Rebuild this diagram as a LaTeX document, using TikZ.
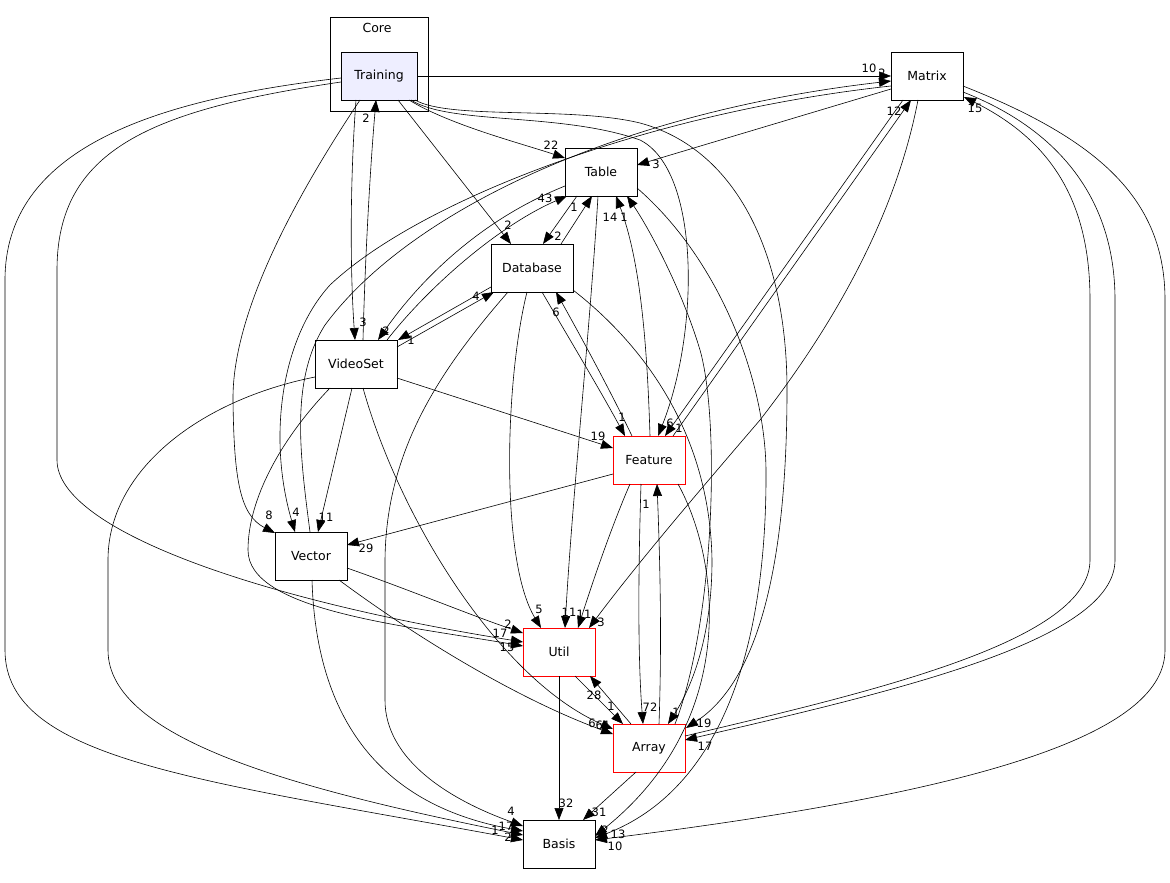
\documentclass[tikz,border=0pt]{standalone}
\usepackage{fontspec}
\setmainfont{DejaVu Sans}
\usetikzlibrary{arrows.meta,calc}
\begin{document}
\begin{tikzpicture}[x=1pt,y=-1pt,
  box/.style={draw=black,line width=0.7pt,minimum width=72pt,minimum height=48pt,inner sep=0pt,outer sep=0pt,font=\fontsize{12.5}{14}\selectfont},
  redbox/.style={box,draw=red},
  e/.style={draw=black,line width=0.6pt,-{Triangle[length=12pt,width=9pt]}},
  lab/.style={inner sep=0pt,font=\fontsize{11.5}{13}\selectfont}]
\fill[white] (0,0) rectangle (1170,883);
\useasboundingbox (0,0) rectangle (1170,883);
% cluster
\node[draw,line width=0.7pt,minimum width=98pt,minimum height=94pt,inner sep=0pt,outer sep=0pt] (core) at (379,64) {};
\node[lab,font=\fontsize{12.5}{14}\selectfont] (corelbl) at (377,28) {Core};
% nodes
\node[box,minimum width=76pt,fill={rgb,255:red,238;green,238;blue,255}] (T) at (379,76) {Training};
\node[box] (M) at (927,76) {Matrix};
\node[box] (Tb) at (601,172) {Table};
\node[box,minimum width=82pt] (D) at (532,268) {Database};
\node[box,minimum width=82pt] (VS) at (356,364) {VideoSet};
\node[redbox] (F) at (649,460) {Feature};
\node[box] (V) at (311,556) {Vector};
\node[redbox] (U) at (559,652) {Util};
\node[redbox] (A) at (649,748) {Array};
\node[box] (B) at (559,844) {Basis};
% edges
\draw[e] (T.east) -- (M.west);
\draw[e] ($(V.north west)+(35,0)$) .. controls (300,455) and (290,380) .. (325,325) .. controls (410,210) and (620,112) .. ($(M.north west)+(0,29)$);
\draw[e] ($(M.north west)+(0,34)$) .. controls (650,112) and (420,200) .. (330,285) .. controls (280,340) and (268,440) .. ($(V.north west)+(20,0)$);
\draw[e] ($(T.south west)+(68,0)$) .. controls (450,125) and (520,143) .. ($(Tb.north west)+(0,10)$);
\draw[e] ($(M.north west)+(0,37)$) -- ($(Tb.north east)+(0,17)$);
\draw[e] ($(VS.north west)+(72,0)$) .. controls (430,285) and (500,225) .. ($(Tb.south west)+(2,0)$);
\draw[e] ($(Tb.south west)+(0,-10)$) .. controls (480,220) and (420,280) .. ($(VS.north west)+(63,0)$);
\draw[e] ($(D.north west)+(70,0)$) -- ($(Tb.south west)+(27,0)$);
\draw[e] ($(Tb.south west)+(12,0)$) -- ($(D.north west)+(52,0)$);
\draw[e] ($(F.north west)+(37,0)$) .. controls (647,340) and (640,260) .. ($(Tb.south west)+(51,0)$);
\draw[e] ($(A.north west)+(62,0)$) .. controls (715,620) and (720,420) .. (700,350) .. controls (682,290) and (650,230) .. ($(Tb.south west)+(62,0)$);
\draw[e] ($(T.south west)+(57,0)$) -- ($(D.north west)+(20,0)$);
\draw[e] ($(VS.north east)+(0,7)$) -- ($(D.south west)+(3,0)$);
\draw[e] ($(D.south west)+(0,-5)$) -- ($(VS.north east)+(1,0)$);
\draw[e] ($(T.south west)+(15,0)$) .. controls (350,180) and (350,270) .. ($(VS.north west)+(40,0)$);
\draw[e] ($(VS.north west)+(48,0)$) .. controls (365,260) and (370,170) .. ($(T.south west)+(35,0)$);
\draw[e] ($(VS.north east)+(0,38)$) -- ($(F.north west)+(0,12)$);
\draw[e] ($(D.south west)+(51,0)$) .. controls (570,340) and (600,390) .. ($(F.north west)+(12,0)$);
\draw[e] ($(F.north west)+(19,0)$) .. controls (610,390) and (580,335) .. ($(D.south west)+(65,0)$);
\draw[e] ($(T.south east)+(-6,0)$) .. controls (450,125) and (560,112) .. (640,140) .. controls (700,170) and (700,330) .. ($(F.north west)+(45,0)$);
\draw[e] ($(T.south east)+(-2,0)$) .. controls (450,120) and (570,106) .. (640,123) .. controls (740,150) and (787,260) .. (787,390) .. controls (787,560) and (760,680) .. ($(A.north east)+(1,4)$);
\draw[e] ($(M.south west)+(12,0)$) -- ($(F.north west)+(52,0)$);
\draw[e] ($(F.north west)+(60,0)$) -- ($(M.south west)+(20,0)$);
\draw[e] ($(T.south west)+(19,0)$) .. controls (300,190) and (232,310) .. (233,400) .. controls (234,480) and (240,515) .. ($(V.north west)+(0,1)$);
\draw[e] ($(VS.south west)+(37,0)$) -- ($(V.north west)+(43,0)$);
\draw[e] ($(F.north west)+(0,38)$) -- ($(V.north east)+(0,13)$);
\draw[e] ($(D.south west)+(36,0)$) .. controls (505,380) and (500,560) .. ($(U.north west)+(18,0)$);
\draw[e] ($(Tb.south west)+(33,0)$) .. controls (590,330) and (572,500) .. ($(U.north west)+(42,0)$);
\draw[e] ($(F.south west)+(17,0)$) .. controls (610,530) and (590,590) .. ($(U.north west)+(55,0)$);
\draw[e] ($(M.south west)+(27,0)$) .. controls (895,220) and (830,330) .. (760,420) .. controls (700,490) and (640,560) .. ($(U.north east)+(-6,0)$);
\draw[e] ($(V.north east)+(0,36)$) .. controls (410,590) and (470,615) .. ($(U.north west)+(0,5)$);
\draw[e] ($(T.north west)+(0,30)$) .. controls (150,110) and (57,150) .. (57,270) -- (57,460) .. controls (57,530) and (260,600) .. ($(U.north west)+(0,14)$);
\draw[e] ($(VS.south west)+(15,0)$) .. controls (280,440) and (248,500) .. (248,550) .. controls (248,610) and (400,625) .. ($(U.north west)+(0,18)$);
\draw[e] ($(U.south west)+(52,0)$) -- ($(A.north west)+(10,0)$);
\draw[e] ($(A.north west)+(18,0)$) -- ($(U.south east)+(-5,0)$);
\draw[e] ($(F.south west)+(28,0)$) .. controls (638,580) and (638,660) .. ($(A.north west)+(30,0)$);
\draw[e] ($(A.north west)+(46,0)$) .. controls (662,640) and (660,560) .. ($(F.south west)+(44,0)$);
\draw[e] ($(D.south east)+(0,-2)$) .. controls (650,350) and (710,440) .. (712,560) .. controls (712,640) and (690,690) .. ($(A.north west)+(55,0)$);
\draw[e] ($(M.north east)+(0,40)$) .. controls (1060,130) and (1115,200) .. (1115,300) -- (1115,560) .. controls (1115,640) and (900,690) .. ($(A.north east)+(0,16)$);
\draw[e] ($(A.north east)+(0,12)$) .. controls (880,690) and (1090,640) .. (1090,560) -- (1090,300) .. controls (1090,200) and (1050,140) .. ($(M.north east)+(1,45)$);
\draw[e] ($(V.south east)+(-8,0)$) .. controls (420,640) and (520,700) .. ($(A.north west)+(0,10)$);
\draw[e] ($(VS.south west)+(48,0)$) .. controls (400,520) and (500,680) .. ($(A.north west)+(0,5)$);
\draw[e] (U.south) -- (B.north);
\draw[e] ($(A.south west)+(23,0)$) -- ($(B.north east)+(-12,0)$);
\draw[e] ($(D.south west)+(17,0)$) .. controls (440,370) and (386,450) .. (385,560) -- (385,700) .. controls (385,760) and (450,800) .. ($(B.north west)+(0,6)$);
\draw[e] ($(T.north west)+(0,26)$) .. controls (150,100) and (5,150) .. (5,280) -- (5,650) .. controls (5,760) and (200,780) .. ($(B.north west)+(0,20)$);
\draw[e] ($(VS.north west)+(0,37)$) .. controls (200,400) and (108,470) .. (108,560) -- (108,650) .. controls (108,740) and (300,790) .. ($(B.north west)+(0,15)$);
\draw[e] ($(V.south west)+(37,0)$) .. controls (315,680) and (350,800) .. ($(B.north west)+(0,11)$);
\draw[e] ($(M.north east)+(0,34)$) .. controls (1100,140) and (1165,200) .. (1165,300) -- (1165,650) .. controls (1165,730) and (1000,790) .. ($(B.north east)+(0,20)$);
\draw[e] ($(F.south east)+(-7,0)$) .. controls (720,560) and (740,720) .. ($(B.north east)+(0,16)$);
\draw[e] ($(Tb.north east)+(0,40)$) .. controls (720,260) and (765,380) .. (766,470) .. controls (767,650) and (720,790) .. ($(B.north east)+(0,18)$);
% labels
\node[lab] (l01) at (869,68) {10};
\node[lab] (l02) at (882,73) {2};
\node[lab] (l03) at (894,111) {12};
\node[lab] (l04) at (975,108) {15};
\node[lab] (l05) at (551,145) {22};
\node[lab] (l06) at (656,164) {3};
\node[lab] (l07) at (545,198) {43};
\node[lab] (l08) at (574,207) {1};
\node[lab] (l09) at (610,217) {14};
\node[lab] (l10) at (624,217) {1};
\node[lab] (l11) at (558,236) {2};
\node[lab] (l12) at (508,225) {2};
\node[lab] (l13) at (366,118) {2};
\node[lab] (l14) at (363,322) {3};
\node[lab] (l15) at (386,331) {2};
\node[lab] (l16) at (411,340) {1};
\node[lab] (l17) at (476,296) {4};
\node[lab] (l18) at (556,312) {6};
\node[lab] (l19) at (622,417) {1};
\node[lab] (l20) at (598,436) {19};
\node[lab] (l21) at (670,423) {6};
\node[lab] (l22) at (679,428) {1};
\node[lab] (l23) at (269,515) {8};
\node[lab] (l24) at (296,512) {4};
\node[lab] (l25) at (326,517) {11};
\node[lab] (l26) at (366,548) {29};
\node[lab] (l27) at (646,504) {1};
\node[lab] (l28) at (539,609) {5};
\node[lab] (l29) at (569,612) {11};
\node[lab] (l30) at (584,614) {11};
\node[lab] (l31) at (601,622) {3};
\node[lab] (l32) at (508,624) {2};
\node[lab] (l33) at (500,633) {17};
\node[lab] (l34) at (507,647) {15};
\node[lab] (l35) at (594,695) {28};
\node[lab] (l36) at (611,706) {1};
\node[lab] (l37) at (650,707) {72};
\node[lab] (l38) at (676,712) {1};
\node[lab] (l39) at (704,723) {19};
\node[lab] (l40) at (705,746) {17};
\node[lab] (l41) at (592,723) {6};
\node[lab] (l42) at (603,725) {61};
\node[lab] (l43) at (566,803) {32};
\node[lab] (l44) at (599,812) {31};
\node[lab] (l45) at (511,811) {4};
\node[lab] (l46) at (506,826) {17};
\node[lab] (l47) at (508,837) {2};
\node[lab] (l48) at (495,830) {1};
\node[lab] (l49) at (618,834) {13};
\node[lab] (l50) at (615,846) {10};
\node[lab] (l51) at (605,830) {2};
\end{tikzpicture}
\end{document}
